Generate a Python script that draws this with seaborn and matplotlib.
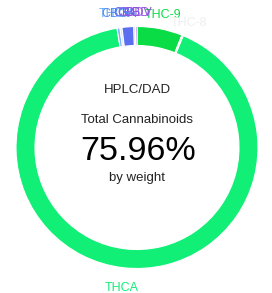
import matplotlib
matplotlib.use("Agg")
import matplotlib.pyplot as plt
import seaborn as sns
import numpy as np

sns.set_theme(style="white")
plt.rcParams["font.family"] = ["Liberation Sans", "DejaVu Sans"]

# Cannabinoid profile, clockwise from the top
compounds = ["THC-9", "THC-8", "THCA", "THCV", "CBGA", "CBG", "CBDV", "CBD"]
amounts = [4.6, 0.15, 69.2, 0.3, 0.2, 1.2, 0.15, 0.16]
colors = ["#0adc46", "#eeeeee", "#11ef77", "#7fb2ff", "#c9d8ff",
          "#5b6ef0", "#b9a9f2", "#9a4fe0"]
label_colors = ["#0adc46", "#eeeeee", "#11ef77", "#6aaaf5", "#4f8ff5",
                "#5b6ef0", "#8d5fe0", "#9a4fe0"]

method = "HPLC/DAD"
total_label = "Total Cannabinoids"
total_value = "75.96%"

W, H = 272, 293
cx, cy = 137, H - 147.5
r_out, r_in = 121, 102

fig = plt.figure(figsize=(W / 100, H / 100), dpi=100)
ax = fig.add_axes([0, 0, 1, 1])

wedges, _ = ax.pie(amounts, colors=colors, startangle=90, counterclock=False,
                   center=(cx, cy), radius=r_out,
                   wedgeprops=dict(width=r_out - r_in, edgecolor="white",
                                   linewidth=0.8))

# labels around the ring, at each slice's middle
total = sum(amounts)
start = 0.0
r_lab = 138
for name, val, col in zip(compounds, amounts, label_colors):
    mid = np.deg2rad((start + val / 2) / total * 360)
    start += val
    x = cx + r_lab * np.sin(mid)
    y = cy + r_lab * np.cos(mid) - 3
    ax.text(x, y, name, color=col, fontsize=9, ha="center", va="center")

ax.text(cx, H - 92.7, method, fontsize=9.5, color="#222222",
        ha="center", va="baseline")
ax.text(cx, H - 122.7, total_label, fontsize=9.5, color="#222222",
        ha="center", va="baseline")
ax.text(cx + 1, H - 160, total_value, fontsize=24.5, color="#000000",
        ha="center", va="baseline")
ax.text(cx, H - 181, "by weight", fontsize=9.5, color="#222222",
        ha="center", va="baseline")

ax.set_xlim(0, W)
ax.set_ylim(0, H)
ax.set_aspect("auto")
ax.axis("off")

fig.savefig("out.png", dpi=100, facecolor="white")
plt.close()
